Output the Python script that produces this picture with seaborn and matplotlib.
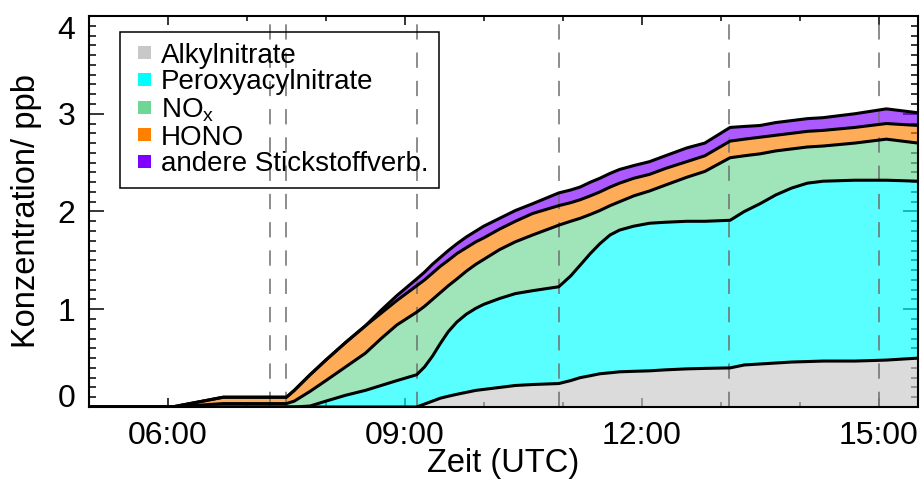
import numpy as np
import pandas as pd
import matplotlib
matplotlib.use("Agg")
import matplotlib.pyplot as plt
from matplotlib.patches import Rectangle, Patch
from matplotlib.legend_handler import HandlerPatch
from matplotlib.ticker import FixedLocator, MultipleLocator, FuncFormatter
import seaborn as sns

# Zeitpunkte in Stunden (UTC)
zeit = [5.0, 6.05, 6.7, 7.5, 7.6, 7.8, 8.0, 8.25, 8.5, 8.7, 8.9, 9.15,
        9.25, 9.35, 9.45, 9.55, 9.66, 9.78, 9.9, 10.0, 10.2, 10.4, 10.62,
        10.95, 11.1, 11.22, 11.35, 11.47, 11.6, 11.72, 11.9, 12.1, 12.3,
        12.57, 12.8, 13.12, 13.3, 13.5, 13.7, 13.9, 14.1, 14.3, 14.7,
        15.1, 15.5]

# Beiträge der einzelnen Stickstoffverbindungen in ppb
alkylnitrate = [0, 0, 0, 0, 0, 0, 0, 0, 0, 0, 0, 0,
                0.03, 0.06, 0.09, 0.11, 0.13, 0.15, 0.17, 0.18, 0.20, 0.22, 0.23,
                0.24, 0.27, 0.30, 0.32, 0.34, 0.35, 0.36, 0.365, 0.37, 0.38,
                0.39, 0.395, 0.40, 0.43, 0.44, 0.45, 0.46, 0.465, 0.47, 0.47,
                0.48, 0.50]
peroxyacylnitrate = [0, 0, 0, 0, 0, 0.01, 0.06, 0.12, 0.17, 0.22, 0.27, 0.33,
                     0.38, 0.46, 0.56, 0.66, 0.74, 0.80, 0.84, 0.87, 0.91, 0.94, 0.96,
                     0.99, 1.07, 1.15, 1.25, 1.33, 1.41, 1.45, 1.485, 1.51, 1.51,
                     1.51, 1.505, 1.51, 1.57, 1.64, 1.72, 1.78, 1.825, 1.84, 1.85,
                     1.84, 1.81]
nox = [0, 0, 0.035, 0.035, 0.06, 0.15, 0.21, 0.29, 0.38, 0.48, 0.57, 0.64,
       0.62, 0.58, 0.52, 0.47, 0.44, 0.44, 0.45, 0.46, 0.50, 0.53, 0.57,
       0.63, 0.56, 0.48, 0.40, 0.34, 0.30, 0.29, 0.31, 0.33, 0.38,
       0.45, 0.51, 0.64, 0.57, 0.51, 0.45, 0.40, 0.37, 0.36, 0.38,
       0.42, 0.39]
hono = [0, 0, 0.065, 0.065, 0.11, 0.17, 0.21, 0.25, 0.28, 0.26, 0.25, 0.27,
        0.27, 0.27, 0.27, 0.26, 0.26, 0.24, 0.23, 0.22, 0.21, 0.21, 0.22,
        0.20, 0.19, 0.19, 0.19, 0.19, 0.19, 0.19, 0.18, 0.17, 0.17,
        0.16, 0.16, 0.17, 0.17, 0.17, 0.16, 0.16, 0.16, 0.16, 0.16,
        0.16, 0.18]
andere = [0, 0, 0, 0, 0, 0, 0, 0, 0, 0.03, 0.05, 0.07,
          0.08, 0.09, 0.09, 0.10, 0.10, 0.11, 0.11, 0.12, 0.11, 0.11, 0.10,
          0.13, 0.13, 0.13, 0.14, 0.14, 0.14, 0.14, 0.13, 0.13, 0.13,
          0.14, 0.13, 0.14, 0.13, 0.12, 0.13, 0.13, 0.13, 0.13, 0.14,
          0.15, 0.13]

namen = ["Alkylnitrate", "Peroxyacylnitrate", r"NO$_\mathregular{x}$",
         "HONO", "andere Stickstoffverb."]
farben = ["#c8c8c8", "#00ffff", "#6ed796", "#ff8000", "#8000ff"]

# Zeitmarken (gestrichelte Linien)
markierungen = [7.29, 7.49, 9.15, 10.95, 13.11, 15.0]

x_ticks = [6, 9, 12, 15]
y_ticks = [0, 1, 2, 3, 4]

sns.set_theme(style="ticks", rc={
    "axes.edgecolor": "black", "axes.labelcolor": "black",
    "text.color": "black", "xtick.color": "black", "ytick.color": "black",
    "axes.linewidth": 1.5,
})
plt.rcParams["font.family"] = ["Liberation Sans", "DejaVu Sans"]
plt.rcParams["mathtext.fontset"] = "custom"
plt.rcParams["mathtext.rm"] = "Liberation Sans"
plt.rcParams["mathtext.it"] = "Liberation Sans:italic"

fig = plt.figure(figsize=(9.22, 4.90), dpi=100)
ax = fig.add_axes([89 / 922, 83 / 490, 829 / 922, 391 / 490])

serien = [alkylnitrate, peroxyacylnitrate, nox, hono, andere]
ax.stackplot(zeit, *serien, colors=farben, alpha=0.65, linewidth=0, zorder=1)

for xm in markierungen:
    ax.axvline(xm, color="#6e6e6e", lw=1.1, dashes=(10, 8.5), zorder=2)

# Grenzlinien der gestapelten Flächen
kumuliert = np.cumsum(np.array(serien, dtype=float), axis=0)
grenzen = pd.concat([
    pd.DataFrame({"Zeit": zeit, "Wert": kumuliert[i], "Grenze": i})
    for i in range(len(serien))
], ignore_index=True)
sns.lineplot(data=grenzen, x="Zeit", y="Wert", units="Grenze",
             estimator=None, color="black", lw=2.2, zorder=3, ax=ax,
             legend=False)

ax.set_xlim(5, 15.5)
ax.set_ylim(0, 4)
ax.xaxis.set_major_locator(FixedLocator(x_ticks))
ax.xaxis.set_major_formatter(FuncFormatter(lambda v, p: f"{int(round(v)):02d}:00"))
ax.xaxis.set_minor_locator(MultipleLocator(1))
ax.yaxis.set_major_locator(FixedLocator(y_ticks))
ax.yaxis.set_major_formatter(FuncFormatter(lambda v, p: f"{int(round(v))}"))
ax.yaxis.set_minor_locator(MultipleLocator(0.1))

ax.tick_params(which="both", direction="in", top=True, right=True,
               width=1.1, labelsize=23)
ax.tick_params(axis="x", which="major", length=6.5, pad=10)
ax.tick_params(axis="x", which="minor", length=3.6)
ax.tick_params(axis="y", which="major", length=10.8, pad=10)
ax.tick_params(axis="y", which="minor", length=5)

yt = ax.yaxis.get_major_ticks()
yt[0].label1.set_verticalalignment("baseline")
yt[-1].label1.set_verticalalignment("top")

ax.set_xlabel("Zeit (UTC)", fontsize=23.5)
ax.xaxis.set_label_coords(0.5, -0.105)
ax.set_ylabel("Konzentration/ ppb", fontsize=23.5)
ax.yaxis.set_label_coords(-0.0567, 0.5)


def quadrat(legend, orig_handle, xdescent, ydescent, width, height, fontsize):
    s = 9.4
    return Rectangle((-xdescent + width - s, -ydescent + (height - s) / 2), s, s)


handles = [Patch(facecolor=c, edgecolor="none", label=n) for c, n in zip(farben, namen)]
leg = ax.legend(handles=handles, loc="upper left",
                bbox_to_anchor=(31 / 829, (407 - 32) / 391), borderaxespad=0,
                fontsize=20, frameon=True, fancybox=False, edgecolor="black",
                facecolor="none", framealpha=1, handlelength=0.75,
                handleheight=0.7, handletextpad=0.35, labelspacing=0.03,
                borderpad=0.38,
                handler_map={Patch: HandlerPatch(patch_func=quadrat)})
leg.get_frame().set_linewidth(1.1)
leg.set_zorder(5)

fig.savefig("out.png", dpi=100)
